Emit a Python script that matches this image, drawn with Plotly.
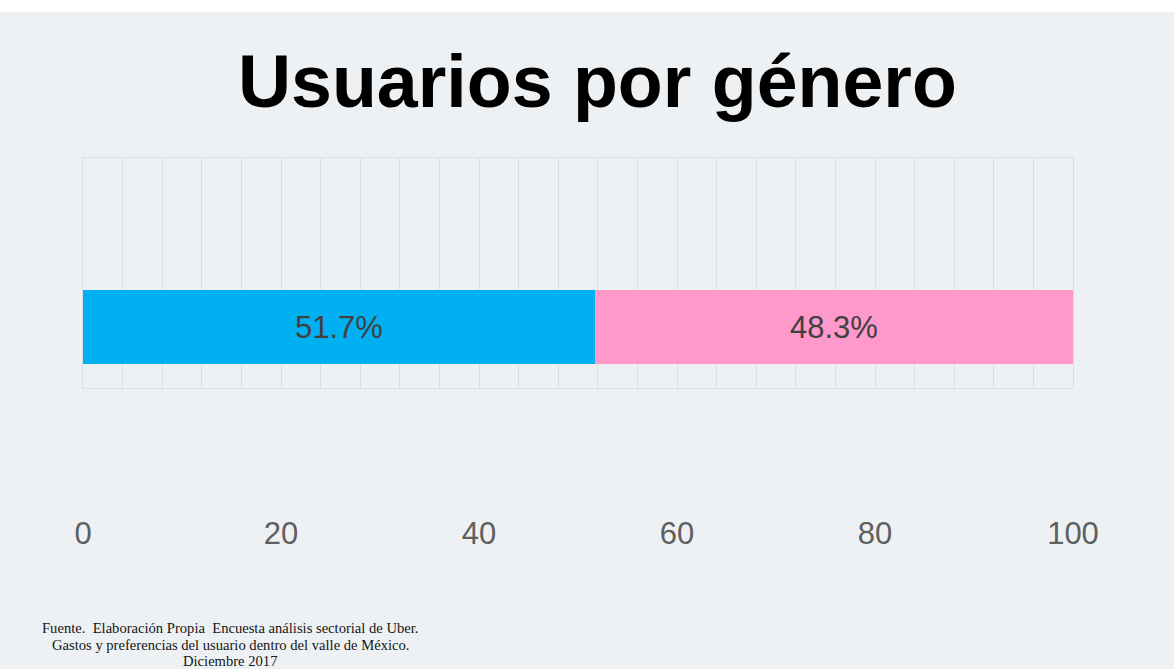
import plotly.graph_objects as go

# Survey data: share of users by gender (percent)
generos = ["Hombres", "Mujeres"]
porcentajes = [51.7, 48.3]
colores = ["#00B0F0", "#FF99CC"]
ticks_x = [0, 20, 40, 60, 80, 100]

titulo = "Usuarios por género"
fuente = [
    "Fuente.  Elaboración Propia  Encuesta análisis sectorial de Uber.",
    "Gastos y preferencias del usuario dentro del valle de México.",
    "Diciembre 2017",
]

W, H = 1174, 669
ML, MR, MT, MB = 83, 101, 158, 281
PW, PH = W - ML - MR, H - MT - MB


def px_x(p):
    return (p - ML) / PW


def px_y(p):
    return (H - MB - p) / PH


fig = go.Figure()
for g, v, c in zip(generos, porcentajes, colores):
    fig.add_trace(go.Bar(
        x=[v], y=[0], orientation="h", name=g, width=0.5,
        marker=dict(color=c, line=dict(width=0)),
        text=[v], texttemplate="%{x:.1f}%", textposition="inside",
        insidetextanchor="middle", textangle=0,
        textfont=dict(family="Liberation Sans, Arial", size=31, color="#404040"),
        hoverinfo="skip",
    ))

# slide background (below the white top strip)
fig.add_shape(type="rect", xref="paper", yref="paper", layer="below",
              x0=px_x(0), x1=px_x(W), y0=px_y(H), y1=px_y(12),
              fillcolor="#eef1f3", line=dict(width=0))

fig.add_annotation(text="<b>" + titulo + "</b>", xref="paper", yref="paper",
                   x=px_x(597), y=px_y(82), xanchor="center", yanchor="middle",
                   showarrow=False,
                   font=dict(family="Liberation Sans, Arial", size=73.5, color="#000000"))

# source note, one annotation per line
for texto, py in zip(fuente, [628, 645, 661]):
    fig.add_annotation(text=texto, xref="paper", yref="paper",
                       x=px_x(230), y=px_y(py), xanchor="center", yanchor="middle",
                       showarrow=False,
                       font=dict(family="Liberation Serif, Times New Roman", size=14.6,
                                 color="#151515"))

grid_col = "#dcdfe2"
fig.update_layout(
    width=W, height=H,
    margin=dict(l=ML, r=MR, t=MT, b=MB, pad=0),
    paper_bgcolor="#ffffff", plot_bgcolor="rgba(0,0,0,0)",
    barmode="stack", showlegend=False,
    xaxis=dict(range=[0, 100], tickvals=ticks_x, ticks="", showgrid=True,
               gridcolor=grid_col, gridwidth=1, zeroline=False,
               minor=dict(dtick=4, showgrid=True, gridcolor=grid_col, gridwidth=1),
               showline=True, linecolor=grid_col, mirror=True,
               ticklabelstandoff=118,
               tickfont=dict(family="Liberation Sans, Arial", size=31, color="#5f5f5f")),
    yaxis=dict(range=[-0.412, 1.142], showticklabels=False, showgrid=False,
               zeroline=False, showline=True, linecolor=grid_col, mirror=True),
)

fig.write_html("out.html")
